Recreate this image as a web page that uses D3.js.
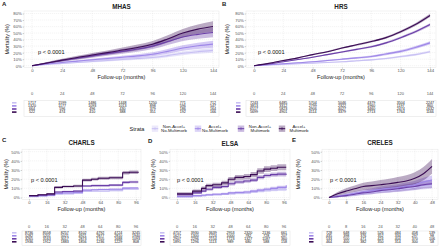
<!doctype html>
<html>
<head>
<meta charset="utf-8">
<script src="https://cdn.jsdelivr.net/npm/d3@7"></script>
<style>
  body { margin: 0; background: #fff; }
  svg { display: block; font-family: "Liberation Sans", Arial, sans-serif; }
</style>
</head>
<body>
<svg id="chart" width="440" height="249"></svg>
<script>
// strata, lightest to darkest
const strata = ["Non-Accel+No-Multimorb", "Accel+No-Multimorb", "Non-Accel+Multimorb", "Accel+Multimorb"];
const legendLines = [["Non-Accel+", "No-Multimorb"], ["Accel+", "No-Multimorb"], ["Non-Accel+", "Multimorb"], ["Accel+", "Multimorb"]];
const colors = ["#c8c0f3", "#9f88e8", "#6b3fa8", "#3b0d55"];

// ---- MHAS ----
const mhasTimes = [0, 12, 24, 36, 48, 60, 72, 84, 96, 108, 120, 132, 144];
const mhasTicks = [0, 24, 48, 72, 96, 120, 144];
const mhasEst = [
  [0, 2, 3.5, 5, 6.5, 8, 9.5, 11, 12.5, 15.5, 19, 21.5, 23.5],
  [0, 2.5, 5, 7, 9, 11, 13, 15, 17.5, 22, 27, 30.5, 33],
  [0, 4, 8, 11.5, 15, 18.5, 22, 25.5, 30, 37, 44, 48, 51],
  [0, 4.2, 8.6, 12.5, 16.5, 20, 24, 28, 33, 41, 50, 56, 60]
];
const mhasCI = [
  [0, 0.5, 0.8, 1, 1.2, 1.4, 1.6, 1.8, 2, 2.4, 2.8, 3.2, 3.6],
  [0, 0.8, 1.2, 1.5, 1.8, 2.1, 2.4, 2.7, 3, 3.6, 4.2, 4.8, 5.4],
  [0, 1.2, 1.8, 2.3, 2.8, 3.2, 3.6, 4, 4.5, 5.2, 6, 6.8, 7.5],
  [0, 1.4, 2, 2.6, 3, 3.4, 3.8, 4.3, 4.8, 5.5, 6.3, 7.2, 8]
];
const mhasRisk = [
  [1717, 1599, 1486, 1448, 1250, 771, 712],
  [1320, 1177, 1093, 1013, 898, 596, 547],
  [664, 596, 496, 430, 379, 186, 164],
  [522, 474, 410, 388, 351, 192, 166]
];

// ---- HRS ----
const hrsTimes = [0, 12, 24, 36, 48, 60, 72, 84, 96, 108, 120, 132, 144];
const hrsTicks = [0, 24, 48, 72, 96, 120, 144];
const hrsEst = [
  [0, 1, 2, 3, 4, 5, 6, 7.5, 9, 11, 14, 17, 21.5],
  [0, 1.5, 3, 4.5, 6, 8, 10, 12, 14, 18, 22, 28, 35],
  [0, 2.5, 6, 9.5, 13, 17, 21, 25, 29, 35, 43, 52, 63],
  [0, 3.5, 8, 12, 17, 21.5, 27, 32, 37, 43, 52, 63, 77]
];
const hrsCI = [
  [0, 0.3, 0.5, 0.6, 0.7, 0.8, 0.9, 1, 1.1, 1.2, 1.4, 1.6, 1.8],
  [0, 0.4, 0.6, 0.8, 0.9, 1, 1.2, 1.4, 1.6, 1.8, 2, 2.3, 2.6],
  [0, 0.4, 0.6, 0.8, 1, 1.1, 1.2, 1.3, 1.4, 1.6, 1.8, 2, 2.2],
  [0, 0.5, 0.7, 0.9, 1, 1.1, 1.2, 1.4, 1.5, 1.7, 2, 2.2, 2.5]
];
const hrsRisk = [
  [7243, 6485, 5704, 5046, 4379, 3504, 2247],
  [3813, 3312, 2799, 2322, 1960, 1197, 860],
  [6517, 5823, 4906, 4027, 3460, 2474, 1632],
  [5699, 4901, 4114, 3379, 2713, 1764, 1166]
];

// ---- CHARLS ----
const charlsTimes = [0, 8, 16, 23, 30, 40, 48, 56, 62, 72, 84, 90, 98];
const charlsTicks = [0, 16, 32, 48, 64, 80, 96];
const charlsEst = [
  [1, 1.5, 2, 3.5, 4, 4.5, 6.5, 7, 7, 7.5, 9, 9, 9.2],
  [1.5, 2, 2.5, 4.5, 5, 5.5, 8, 8.5, 8.8, 9, 10.2, 10.4, 10.5],
  [2, 2.5, 3, 6, 6.5, 7, 12.5, 13, 13, 13.5, 16.5, 17, 17],
  [2, 3, 4, 11, 12, 12.5, 19, 20, 21, 21.5, 27, 27.5, 28]
];
const charlsCI = [
  [0.3, 0.3, 0.4, 0.5, 0.5, 0.5, 0.6, 0.6, 0.6, 0.7, 0.8, 0.8, 0.9],
  [0.4, 0.4, 0.5, 0.6, 0.6, 0.6, 0.8, 0.8, 0.8, 0.9, 1, 1, 1.1],
  [0.5, 0.5, 0.6, 0.8, 0.8, 0.9, 1.1, 1.1, 1.1, 1.2, 1.4, 1.4, 1.5],
  [0.6, 0.7, 0.8, 1.2, 1.2, 1.3, 1.5, 1.5, 1.6, 1.6, 1.9, 1.9, 2]
];
const charlsRisk = [
  [8736, 8558, 8257, 8102, 4792, 4724, 3245],
  [5282, 5201, 5021, 4921, 2877, 2810, 1940],
  [3265, 3163, 3017, 2873, 1705, 1688, 1093],
  [1936, 1912, 1883, 1856, 1236, 1229, 808]
];

// ---- ELSA ----
const elsaTimes = [0, 14, 22, 26, 32, 40, 46, 52, 60, 66, 72, 78, 84, 90, 98];
const elsaTicks = [0, 16, 32, 48, 64, 80, 96];
const elsaEst = [
  [1, 1.5, 2, 2.5, 3, 3.5, 4, 4.5, 5, 6, 6.5, 7.5, 8, 8.5, 9.5],
  [1, 2, 2.5, 3, 3.5, 4, 5, 5.5, 6, 7, 8, 9, 10, 11, 13.5],
  [3, 5, 7, 9, 11, 12, 15, 17, 18, 19, 22, 24, 25, 25.5, 26],
  [4, 7, 10, 13, 14, 16, 20, 22, 23, 25, 29, 31, 32, 33, 33]
];
const elsaCI = [
  [0.5, 0.5, 0.6, 0.6, 0.7, 0.7, 0.8, 0.9, 0.9, 1, 1.1, 1.2, 1.3, 1.4, 1.5],
  [0.8, 0.9, 1, 1, 1.1, 1.2, 1.3, 1.3, 1.4, 1.5, 1.6, 1.7, 1.8, 1.9, 2.2],
  [1.2, 1.3, 1.4, 1.5, 1.6, 1.7, 1.8, 1.9, 2, 2.1, 2.2, 2.3, 2.4, 2.5, 2.6],
  [1.6, 1.8, 2, 2.1, 2.2, 2.3, 2.5, 2.6, 2.7, 2.8, 3, 3.1, 3.2, 3.3, 3.4]
];
const elsaRisk = [
  [4757, 3930, 3639, 2953, 2320, 2136, 661],
  [1627, 1300, 1224, 1000, 782, 728, 207],
  [2907, 2296, 2154, 1723, 1327, 1187, 360],
  [1891, 1296, 1113, 989, 680, 588, 158]
];

// ---- CRELES ----
const crelesTimes = [0, 4, 8, 12, 16, 20, 24, 28, 32, 36, 40, 44, 48];
const crelesTicks = [0, 8, 16, 24, 32, 40, 48];
const crelesEst = [
  [0, 1, 2, 3, 4.5, 5.5, 6.5, 7.5, 8.5, 9.5, 11, 12, 13],
  [0, 1.5, 3, 4.5, 6, 7.5, 9, 10, 11, 12.5, 14, 17, 19],
  [0, 1, 2, 3.5, 5, 6, 7.5, 8.5, 9.5, 11, 12, 14, 15],
  [0, 4, 7, 9.5, 12, 13, 14, 15, 16.5, 18, 21, 26, 34]
];
const crelesCI = [
  [0, 0.8, 1.2, 1.5, 1.8, 2, 2.2, 2.4, 2.6, 2.8, 3, 3.2, 3.4],
  [0, 1, 1.5, 2, 2.4, 2.7, 3, 3.3, 3.6, 3.9, 4.2, 4.6, 5],
  [0, 0.8, 1.2, 1.7, 2.1, 2.4, 2.7, 3, 3.3, 3.6, 3.9, 4.2, 4.5],
  [0, 2, 3, 3.6, 4.2, 4.6, 5, 5.4, 5.8, 6.2, 6.6, 7.2, 8]
];
const crelesRisk = [
  [728, 648, 640, 526, 484, 458, 139],
  [435, 398, 376, 352, 334, 297, 98],
  [533, 500, 471, 424, 404, 370, 106],
  [464, 400, 382, 350, 314, 300, 58]
];

const svg = d3.select("#chart");

const panels = [
  { letter: "A", title: "MHAS", times: mhasTimes, ticks: mhasTicks, est: mhasEst, ci: mhasCI, risk: mhasRisk,
    xMax: 144, yMax: 80, yTicks: [0, 10, 20, 30, 40, 50, 60, 70, 80], step: false,
    xr: [32, 213], yr: [65.7, 13.5], left: 24, right: 219, letterX: 2, titleY: 9, ytitleX: 7,
    pX: 38, pY: 54, headY: 95, rowY: [104, 107.1, 110.2, 113.3], boxY: [100.6, 116.6], markX: 12 },
  { letter: "B", title: "HRS", times: hrsTimes, ticks: hrsTicks, est: hrsEst, ci: hrsCI, risk: hrsRisk,
    xMax: 144, yMax: 80, yTicks: [0, 10, 20, 30, 40, 50, 60, 70, 80], step: false,
    xr: [254, 430], yr: [65.7, 13.5], left: 246, right: 436, letterX: 222, titleY: 9, ytitleX: 227,
    pX: 258, pY: 54, headY: 95, rowY: [104, 107.1, 110.2, 113.3], boxY: [100.6, 116.6], markX: 236 },
  { letter: "C", title: "CHARLS", times: charlsTimes, ticks: charlsTicks, est: charlsEst, ci: charlsCI, risk: charlsRisk,
    xMax: 96, yMax: 50, yTicks: [0, 10, 20, 30, 40, 50], step: true,
    xr: [29, 136], yr: [197.5, 151.7], left: 22, right: 141, letterX: 2, titleY: 145, ytitleX: 6,
    pX: 31, pY: 182, headY: 228, rowY: [234, 237, 240, 243], boxY: [231, 245.5], markX: 12 },
  { letter: "D", title: "ELSA", times: elsaTimes, ticks: elsaTicks, est: elsaEst, ci: elsaCI, risk: elsaRisk,
    xMax: 96, yMax: 50, yTicks: [0, 10, 20, 30, 40, 50], step: true,
    xr: [177, 284], yr: [197.5, 151.7], left: 170, right: 290, letterX: 148, titleY: 146, ytitleX: 153,
    pX: 177, pY: 182, headY: 228, rowY: [234, 237, 240, 243], boxY: [231, 245.5], markX: 160 },
  { letter: "E", title: "CRELES", times: crelesTimes, ticks: crelesTicks, est: crelesEst, ci: crelesCI, risk: crelesRisk,
    xMax: 48, yMax: 50, yTicks: [0, 10, 20, 30, 40, 50], step: false,
    xr: [329, 432], yr: [197.5, 151.7], left: 322, right: 438, letterX: 292, titleY: 145, ytitleX: 298,
    pX: 330, pY: 182, headY: 228, rowY: [234, 237, 240, 243], boxY: [231, 245.5], markX: 309 }
];

panels.forEach(p => drawPanel(p));
drawLegend();

function drawPanel(p) {
  const x = d3.scaleLinear().domain([0, p.xMax]).range(p.xr);
  const y = d3.scaleLinear().domain([0, p.yMax]).range(p.yr);
  const top = y(p.yMax) - 2.5, bot = y(0) + 1.8;
  const g = svg.append("g");

  g.append("text").attr("x", p.letterX).attr("y", p.titleY - 3)
      .attr("font-size", 6).attr("font-weight", "bold").attr("fill", "#222").text(p.letter);
  g.append("text").attr("x", (p.left + p.right) / 2).attr("y", p.titleY)
      .attr("text-anchor", "middle").attr("font-size", 6.3).attr("font-weight", "bold").attr("fill", "#222")
      .text(p.title);

  g.append("rect").attr("x", p.left).attr("y", top).attr("width", p.right - p.left).attr("height", bot - top)
      .attr("fill", "#fff").attr("stroke", "#e6e6e6").attr("stroke-width", 0.5);

  // grid
  const grid = g.append("g").attr("stroke", "#e0e0e0").attr("stroke-width", 0.35).attr("stroke-dasharray", "1.2,0.8");
  grid.selectAll(".gy").data(p.yTicks).join("line")
      .attr("x1", p.left).attr("x2", p.right).attr("y1", d => y(d)).attr("y2", d => y(d));
  grid.selectAll(".gx").data(p.ticks).join("line")
      .attr("y1", top).attr("y2", bot).attr("x1", d => x(d)).attr("x2", d => x(d));

  // axes
  const yAxis = g.append("g").attr("transform", `translate(${p.left},0)`)
      .call(d3.axisLeft(y).tickValues(p.yTicks).tickFormat(d => d + "%").tickSize(1.3).tickPadding(0.8));
  const xAxis = g.append("g").attr("transform", `translate(0,${bot})`)
      .call(d3.axisBottom(x).tickValues(p.ticks).tickSize(1.2).tickPadding(0.5));
  [yAxis, xAxis].forEach(a => {
    a.attr("font-family", null);
    a.select(".domain").remove();
    a.selectAll("line").attr("stroke", "#888").attr("stroke-width", 0.4);
    a.selectAll("text").attr("font-size", 4.3).attr("fill", "#555");
  });

  g.append("text").attr("x", (p.left + p.right) / 2).attr("y", bot + 11.6)
      .attr("text-anchor", "middle").attr("font-size", 5.6).attr("fill", "#222").text("Follow-up (months)");
  g.append("text").attr("transform", `translate(${p.ytitleX},${(top + bot) / 2}) rotate(-90)`)
      .attr("text-anchor", "middle").attr("dy", "0.35em").attr("font-size", 5.4).attr("fill", "#222")
      .text("Mortality (%)");

  const curve = p.step ? d3.curveStepAfter : d3.curveMonotoneX;
  const series = p.est.map((row, i) => row.map((v, k) => ({ t: p.times[k], v, ci: p.ci[i][k] })));

  const plot = g.append("g");
  const area = d3.area().curve(curve)
      .x(d => x(Math.min(d.t, p.xMax + 2)))
      .y0(d => y(Math.max(0, d.v - d.ci))).y1(d => y(d.v + d.ci));
  const line = d3.line().curve(curve)
      .x(d => x(Math.min(d.t, p.xMax + 2))).y(d => y(d.v));

  plot.selectAll(".band").data(series).join("path")
      .attr("d", area).attr("fill", (d, i) => colors[i]).attr("fill-opacity", (d, i) => i < 2 ? 0.45 : 0.35);
  plot.selectAll(".ln").data(series).join("path")
      .attr("d", line).attr("fill", "none").attr("stroke", (d, i) => colors[i]).attr("stroke-width", 1.1);

  g.append("text").attr("x", p.pX).attr("y", p.pY).attr("font-size", 5.6).attr("fill", "#111").text("p < 0.0001");

  // risk table
  const tg = svg.append("g");
  tg.selectAll(".hd").data(p.ticks).join("text")
      .attr("x", d => x(d)).attr("y", p.headY).attr("text-anchor", "middle")
      .attr("font-size", 4).attr("fill", "#555").text(d => d);
  tg.append("rect").attr("x", p.left).attr("y", p.boxY[0]).attr("width", p.right - p.left)
      .attr("height", p.boxY[1] - p.boxY[0]).attr("fill", "#fff").attr("stroke", "#e0e0e0").attr("stroke-width", 0.5);
  p.risk.forEach((row, i) => {
    tg.append("rect").attr("x", p.markX).attr("y", p.rowY[i] - 2).attr("width", 4.5).attr("height", 1.6)
        .attr("fill", colors[i]);
    tg.selectAll(".r" + i).data(row).join("text")
        .attr("x", (d, k) => x(p.ticks[k])).attr("y", p.rowY[i])
        .attr("text-anchor", "middle").attr("font-size", 3.6).attr("fill", "#111")
        .text(d => d);
  });
}

function drawLegend() {
  const lg = svg.append("g");
  lg.append("text").attr("x", 137).attr("y", 131).attr("text-anchor", "middle")
      .attr("font-size", 5.6).attr("fill", "#222").text("Strata");
  const keyX = [155, 198, 241, 282];
  const txtX = [174, 215, 260, 299];
  strata.forEach((s, i) => {
    lg.append("rect").attr("x", keyX[i] - 3.2).attr("y", 125.5).attr("width", 6.4).attr("height", 6.4)
        .attr("fill", colors[i]).attr("fill-opacity", 0.35);
    lg.append("line").attr("x1", keyX[i] - 3.2).attr("x2", keyX[i] + 3.2).attr("y1", 128.7).attr("y2", 128.7)
        .attr("stroke", colors[i]).attr("stroke-width", 1);
    lg.append("line").attr("x1", keyX[i]).attr("x2", keyX[i]).attr("y1", 127.2).attr("y2", 130.2)
        .attr("stroke", colors[i]).attr("stroke-width", 0.6);
    lg.selectAll(".l" + i).data(legendLines[i]).join("text")
        .attr("x", txtX[i]).attr("y", (d, k) => 127.6 + k * 4.6).attr("text-anchor", "middle")
        .attr("font-size", 4.3).attr("fill", "#222").text(d => d);
  });
}
</script>
</body>
</html>
